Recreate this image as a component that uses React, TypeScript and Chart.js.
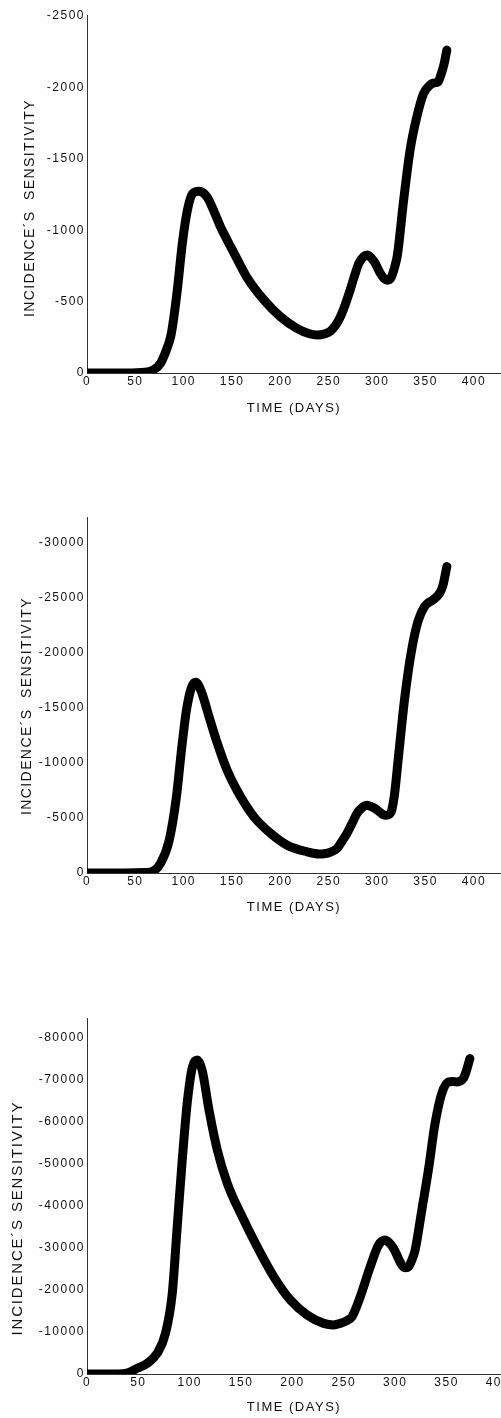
import React, { useEffect, useRef } from "react";
import { Chart, registerables } from "chart.js";

Chart.register(...registerables);

// Shared time axis ticks (days)
const timeTicks = [0, 50, 100, 150, 200, 250, 300, 350, 400];

// Panel 1: sensitivity of incidence (scale to -2500)
const days1 = [0, 40, 60, 68, 76, 82, 87, 93, 98.6, 103.8, 109, 115.8, 122, 126, 132, 138, 145, 152, 165, 183, 200, 217, 230, 238, 246, 252, 258, 262, 267, 272, 277, 281, 286, 289.5, 294, 298, 303, 307, 311, 314, 318, 321, 327, 334, 341, 348, 354.6, 358, 363, 366, 369, 372];
const sens1 = [0, 0, -5, -20, -68, -160, -270, -560, -910, -1140, -1255, -1272, -1250, -1211, -1120, -1024, -930, -840, -674, -511, -394, -313, -275, -266, -275, -295, -345, -394, -480, -581, -690, -768, -815, -826, -805, -768, -700, -663, -650, -663, -740, -830, -1190, -1561, -1795, -1958, -2016, -2030, -2039, -2090, -2160, -2261];
const ticks1 = [-2500, -2000, -1500, -1000, -500, 0];

// Panel 2: sensitivity of incidence (scale to -30000)
const days2 = [0, 40, 60, 68, 76, 85, 92.4, 97.6, 102.7, 107.9, 112.4, 118, 126.4, 135, 145, 159, 172.7, 190, 207, 227.6, 240, 245, 252, 258.5, 263, 268.7, 274, 279, 284, 289.4, 293, 298, 303, 308, 312, 315, 318, 321.6, 328.5, 335.4, 342.2, 349, 357.7, 364.6, 368, 372];
const sens2 = [0, 0, -40, -150, -875, -2978, -6886, -11100, -14710, -16815, -17300, -16515, -14106, -11700, -9296, -6886, -5081, -3583, -2527, -1922, -1720, -1740, -1900, -2229, -2800, -3583, -4500, -5388, -5900, -6137, -6050, -5839, -5500, -5235, -5300, -5686, -7200, -10200, -15912, -20126, -22833, -24187, -24790, -25390, -26100, -27800];
const ticks2 = [-30000, -25000, -20000, -15000, -10000, -5000, 0];

// Panel 3: sensitivity of incidence (scale to -80000)
const days3 = [0, 30, 40, 49, 58.6, 68.3, 76.4, 83, 87.8, 92.7, 97.5, 102.6, 107.3, 112.1, 118.8, 126.9, 136.6, 149.5, 165.7, 181.9, 198, 214.3, 230.4, 240, 246.6, 252, 258, 262, 266, 275.7, 283.8, 290.3, 294, 298.4, 306.5, 310, 313, 316, 319.4, 325.9, 332.3, 338.8, 345.3, 351.8, 356, 359.9, 366.3, 369, 372.7];
const sens3 = [0, 0, -300, -1350, -2540, -4920, -9690, -19200, -35060, -50930, -64430, -73135, -74800, -72350, -62830, -53300, -45380, -38240, -30300, -23160, -17610, -14040, -12060, -11700, -12060, -12600, -13640, -15800, -18400, -25540, -30700, -31890, -31300, -29920, -25940, -25300, -25540, -27000, -29510, -39030, -48550, -59670, -66810, -69570, -69700, -69570, -70380, -72000, -75130];
const ticks3 = [-80000, -70000, -60000, -50000, -40000, -30000, -20000, -10000, 0];

const X_TITLE = "TIME (DAYS)";
const Y_TITLE_WIDE = "INCIDENCE\u00B4S  SENSITIVITY";
const Y_TITLE = "INCIDENCE\u00B4S SENSITIVITY";

const FONT = "'Liberation Sans', Arial, Helvetica, sans-serif";
const INK = "#111";

const spacingPlugin = {
  id: "letterSpacing",
  beforeUpdate(chart: any) {
    chart.ctx.letterSpacing = "1.5px";
  },
  beforeLayout(chart: any) {
    chart.ctx.letterSpacing = "1.5px";
  },
  beforeDraw(chart: any) {
    chart.ctx.letterSpacing = "1.5px";
  },
};

// Rotated axis caption on the left side
const sideTitlePlugin = {
  id: "sideTitle",
  afterDraw(chart: any, _args: any, opts: any) {
    const { ctx } = chart;
    ctx.save();
    ctx.letterSpacing = opts.spacing;
    ctx.font = `${opts.size}px ${FONT}`;
    ctx.fillStyle = INK;
    ctx.textAlign = "center";
    ctx.textBaseline = "middle";
    ctx.translate(opts.x, opts.y);
    ctx.rotate(-Math.PI / 2);
    ctx.fillText(opts.text, 0, 0);
    ctx.restore();
  },
};

type PanelProps = {
  days: number[];
  values: number[];
  yTicks: number[];
  yMin: number;
  xMax: number;
  top: number;
  height: number;
  padTop: number;
  xAxisHeight: number;
  xTitlePad: number;
  yTitle: { text: string; x: number; y: number; size: number; spacing: string };
};

function Panel(p: PanelProps) {
  const ref = useRef<HTMLCanvasElement>(null);

  useEffect(() => {
    const canvas = ref.current;
    if (!canvas) return;
    const chart = new Chart(canvas, {
      type: "line",
      data: {
        datasets: [
          {
            data: p.days.map((d, i) => ({ x: d, y: p.values[i] })),
            borderColor: "#000",
            borderWidth: 9,
            pointRadius: 0,
            fill: false,
            cubicInterpolationMode: "monotone",
            borderCapStyle: "round",
            borderJoinStyle: "round",
          },
        ],
      },
      options: {
        animation: false,
        responsive: false,
        devicePixelRatio: 1,
        layout: {
          autoPadding: false,
          padding: { top: p.padTop, left: 0, right: 0, bottom: 0 },
        },
        plugins: {
          legend: { display: false },
          tooltip: { enabled: false },
          sideTitle: p.yTitle,
        } as any,
        scales: {
          x: {
            type: "linear",
            min: 0,
            max: p.xMax,
            grid: { display: false, drawTicks: false },
            border: { display: true, color: "#333", width: 1 },
            ticks: {
              autoSkip: false,
              maxRotation: 0,
              padding: 1,
              color: INK,
              font: { family: FONT, size: 12 },
              callback: (v: any) => String(v),
            },
            afterBuildTicks: (s: any) => {
              s.ticks = timeTicks.map((v) => ({ value: v }));
            },
            title: {
              display: true,
              text: X_TITLE,
              color: INK,
              font: { family: FONT, size: 13 },
              padding: { top: 0, bottom: p.xTitlePad },
            },
            afterFit: (s: any) => {
              s.height = p.xAxisHeight;
              s.paddingLeft = 0;
              s.paddingRight = 0;
            },
          },
          y: {
            type: "linear",
            reverse: true,
            min: p.yMin,
            max: 0,
            grid: { display: false, drawTicks: false },
            border: { display: true, color: "#333", width: 1 },
            ticks: {
              autoSkip: false,
              padding: 2,
              color: INK,
              font: { family: FONT, size: 12 },
              callback: (v: any) => String(v),
            },
            afterBuildTicks: (s: any) => {
              s.ticks = p.yTicks.map((v) => ({ value: v }));
            },
            afterFit: (s: any) => {
              s.width = 87;
              s.paddingTop = 0;
              s.paddingBottom = 0;
            },
          },
        },
      } as any,
      plugins: [spacingPlugin, sideTitlePlugin],
    });
    return () => chart.destroy();
  }, []);

  return (
    <canvas
      ref={ref}
      width={501}
      height={p.height}
      style={{ position: "absolute", left: 0, top: p.top, width: 501, height: p.height }}
    />
  );
}

export default function App() {
  return (
    <div style={{ position: "absolute", left: 0, top: 0, width: 501, height: 1418, background: "#fff" }}>
      <Panel
        days={days1}
        values={sens1}
        yTicks={ticks1}
        yMin={-2507}
        xMax={428}
        top={0}
        height={420}
        padTop={15}
        xAxisHeight={47}
        xTitlePad={4}
        yTitle={{ text: Y_TITLE_WIDE, x: 30, y: 208, size: 14, spacing: "1.4px" }}
      />
      <Panel
        days={days2}
        values={sens2}
        yTicks={ticks2}
        yMin={-32300}
        xMax={428}
        top={500}
        height={420}
        padTop={17}
        xAxisHeight={47}
        xTitlePad={5}
        yTitle={{ text: Y_TITLE_WIDE, x: 27.5, y: 206, size: 14, spacing: "1.4px" }}
      />
      <Panel
        days={days3}
        values={sens3}
        yTicks={ticks3}
        yMin={-84800}
        xMax={403}
        top={1000}
        height={418}
        padTop={18}
        xAxisHeight={44}
        xTitlePad={3}
        yTitle={{ text: Y_TITLE, x: 18, y: 218, size: 15, spacing: "1.8px" }}
      />
    </div>
  );
}
